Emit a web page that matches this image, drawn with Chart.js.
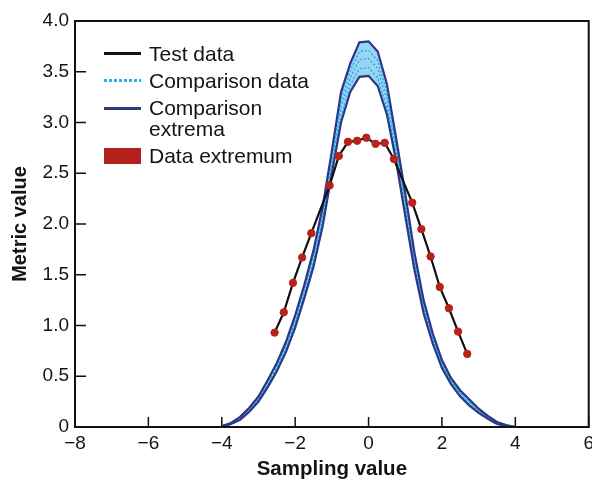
<!DOCTYPE html>
<html>
<head>
<meta charset="utf-8">
<script src="https://cdn.jsdelivr.net/npm/chart.js@4.4.1/dist/chart.umd.min.js"></script>
<style>
  html, body { margin: 0; padding: 0; background: #fff; }
  #wrap { position: relative; width: 592px; height: 483px; overflow: hidden; background: #fff; }
  #graph { position: absolute; left: 0; top: 0; }
  .key { position: absolute; left: 149px; font: 21px/22px 'Liberation Sans', Arial, sans-serif; color: #141414; white-space: nowrap; }
  .swatch { position: absolute; left: 104px; width: 37px; }
</style>
</head>
<body>
<div id="wrap">
  <canvas id="graph" width="599" height="483"></canvas>

  <div class="swatch" style="top:52px;height:3px;background:#111"></div>
  <div class="key" style="top:43px">Test data</div>

  <div class="swatch" style="top:79px;height:3px;background:repeating-linear-gradient(to right,#2fb0e4 0 3px,transparent 3px 5px)"></div>
  <div class="key" style="top:70px">Comparison data</div>

  <div class="swatch" style="top:107px;height:3px;background:#2c3885"></div>
  <div class="key" style="top:97px;line-height:21px">Comparison<br>extrema</div>

  <div class="swatch" style="top:148px;height:16px;background:#b2201b"></div>
  <div class="key" style="top:145px">Data extremum</div>
</div>

<script>
/*------------------------------*/
/*     données des courbes      */
/*------------------------------*/
var xGrid = [-4, -3.75, -3.5, -3.25, -3, -2.75, -2.5, -2.25, -2, -1.75, -1.5, -1.25, -1, -0.75, -0.5, -0.25,
             0, 0.25, 0.5, 0.75, 1, 1.25, 1.5, 1.75, 2, 2.25, 2.5, 2.75, 3, 3.25, 3.5, 3.75, 4]

var extremaHigh = [0.01, 0.04, 0.10, 0.19, 0.30, 0.46, 0.63, 0.84, 1.10, 1.40, 1.74, 2.17, 2.72, 3.30, 3.58, 3.79,
                   3.80, 3.70, 3.38, 2.85, 2.30, 1.72, 1.25, 0.92, 0.66, 0.48, 0.36, 0.27, 0.18, 0.11, 0.05, 0.02, 0]
var extremaLow  = [0.00, 0.03, 0.07, 0.15, 0.25, 0.39, 0.55, 0.74, 0.98, 1.27, 1.58, 1.98, 2.50, 3.00, 3.30, 3.45,
                   3.46, 3.36, 3.08, 2.62, 2.08, 1.55, 1.12, 0.82, 0.58, 0.42, 0.30, 0.21, 0.14, 0.08, 0.03, 0.01, 0]

var comparisonA = [0.01, 0.04, 0.09, 0.18, 0.29, 0.44, 0.61, 0.81, 1.07, 1.37, 1.70, 2.12, 2.66, 3.22, 3.51, 3.70,
                   3.71, 3.61, 3.30, 2.79, 2.24, 1.68, 1.22, 0.89, 0.64, 0.46, 0.34, 0.25, 0.17, 0.10, 0.05, 0.02, 0]
var comparisonB = [0.01, 0.03, 0.08, 0.17, 0.27, 0.42, 0.59, 0.79, 1.04, 1.33, 1.66, 2.07, 2.61, 3.15, 3.44, 3.62,
                   3.63, 3.53, 3.23, 2.73, 2.19, 1.63, 1.18, 0.87, 0.62, 0.45, 0.33, 0.24, 0.16, 0.09, 0.04, 0.01, 0]
var comparisonC = [0.00, 0.03, 0.08, 0.16, 0.26, 0.41, 0.57, 0.76, 1.01, 1.30, 1.62, 2.03, 2.55, 3.07, 3.37, 3.53,
                   3.54, 3.44, 3.15, 2.68, 2.13, 1.59, 1.15, 0.84, 0.60, 0.43, 0.31, 0.22, 0.15, 0.09, 0.04, 0.01, 0]

var testX = [-2.56, -2.31, -2.06, -1.81, -1.56, -1.06, -0.81, -0.56, -0.31, -0.06,
             0.19, 0.44, 0.69, 1.19, 1.44, 1.69, 1.94, 2.19, 2.44, 2.69]
var testY = [0.93, 1.13, 1.42, 1.67, 1.91, 2.38, 2.67, 2.81, 2.82, 2.85,
             2.79, 2.80, 2.64, 2.21, 1.95, 1.68, 1.38, 1.17, 0.94, 0.72]

var xTicks = [-8, -6, -4, -2, 0, 2, 4, 6]
var yTicks = [0, 0.5, 1, 1.5, 2, 2.5, 3, 3.5, 4]

function points(xs, ys) {
    return xs.map(function (x, i) { return { x: x, y: ys[i] } })
}

// petits traits de graduation vers l'intérieur + cadre
var innerTicks = {
    id: 'innerTicks',
    afterDatasetsDraw: function (chart) {
        var c = chart.ctx, a = chart.chartArea, sx = chart.scales.x, sy = chart.scales.y
        c.save()
        c.strokeStyle = '#111'
        c.lineWidth = 1.5
        c.beginPath()
        sx.ticks.forEach(function (t) {
            var px = sx.getPixelForValue(t.value)
            c.moveTo(px, a.bottom); c.lineTo(px, a.bottom - 10)
        })
        sy.ticks.forEach(function (t) {
            var py = sy.getPixelForValue(t.value)
            c.moveTo(a.left, py); c.lineTo(a.left + 11, py)
        })
        c.stroke()
        c.lineWidth = 2
        c.strokeRect(a.left, a.top, a.right - a.left, a.bottom - a.top)
        c.restore()
    }
}

Chart.defaults.font.family = "'Liberation Sans', Arial, sans-serif"
Chart.defaults.color = '#141414'

var navy = '#2c3885'
var cyan = '#2aa8e0'

var data_graph = {
    datasets: [
        {
            label: 'Data extremum',
            data: points(testX, testY),
            showLine: false,
            pointRadius: 3.7,
            pointBackgroundColor: '#b8221b',
            pointBorderColor: '#b8221b',
            order: 0
        },
        {
            label: 'Test data',
            data: points(testX, testY),
            borderColor: '#111',
            borderWidth: 2.2,
            pointRadius: 0,
            order: 1
        },
        {
            label: 'Comparison extrema',
            data: points(xGrid, extremaHigh),
            borderColor: navy,
            borderWidth: 2.2,
            pointRadius: 0,
            fill: 3,
            backgroundColor: 'rgba(110, 196, 240, 0.7)',
            order: 2
        },
        {
            label: 'Comparison extrema (min)',
            data: points(xGrid, extremaLow),
            borderColor: navy,
            borderWidth: 2.2,
            pointRadius: 0,
            order: 3
        },
        {
            label: 'Comparison data',
            data: points(xGrid, comparisonA),
            borderColor: cyan, borderWidth: 1.4, borderDash: [2, 2],
            pointRadius: 0, order: 4
        },
        {
            label: 'Comparison data 2',
            data: points(xGrid, comparisonB),
            borderColor: cyan, borderWidth: 1.4, borderDash: [2, 2],
            pointRadius: 0, order: 5
        },
        {
            label: 'Comparison data 3',
            data: points(xGrid, comparisonC),
            borderColor: cyan, borderWidth: 1.4, borderDash: [2, 2],
            pointRadius: 0, order: 6
        }
    ]
}

var config_graph = {
    type: 'line',
    data: data_graph,
    options: {
        responsive: false,
        animation: false,
        layout: { padding: { top: 21, right: 0, bottom: 0, left: 0 } },
        plugins: {
            legend: { display: false },
            tooltip: { enabled: false },
            filler: { drawTime: 'beforeDatasetsDraw' }
        },
        scales: {
            x: {
                type: 'linear',
                min: -8,
                max: 6,
                afterBuildTicks: function (s) { s.ticks = xTicks.map(function (v) { return { value: v } }) },
                afterFit: function (s) { s.height = 56 },
                grid: { display: false, drawTicks: false },
                border: { display: false },
                ticks: {
                    padding: 5,
                    font: { size: 19 },
                    callback: function (v) { return v < 0 ? '\u2212' + Math.abs(v) : '' + v }
                },
                title: {
                    display: true,
                    text: 'Sampling value',
                    font: { size: 20.5, weight: 'bold' },
                    padding: { top: 0, bottom: 1 }
                }
            },
            y: {
                min: 0,
                max: 4,
                afterBuildTicks: function (s) { s.ticks = yTicks.map(function (v) { return { value: v } }) },
                afterFit: function (s) { s.width = 75 },
                grid: { display: false, drawTicks: false },
                border: { display: false },
                ticks: {
                    padding: 6,
                    font: { size: 19 },
                    callback: function (v) { return v === 0 ? '0' : v.toFixed(1) }
                },
                title: {
                    display: true,
                    text: 'Metric value',
                    font: { size: 20, weight: 'bold' },
                    padding: { top: 8, bottom: 0 }
                }
            }
        }
    },
    plugins: [innerTicks]
}

var graph = new Chart(document.getElementById('graph').getContext('2d'), config_graph)
/*------------------------------*/
</script>
</body>
</html>
